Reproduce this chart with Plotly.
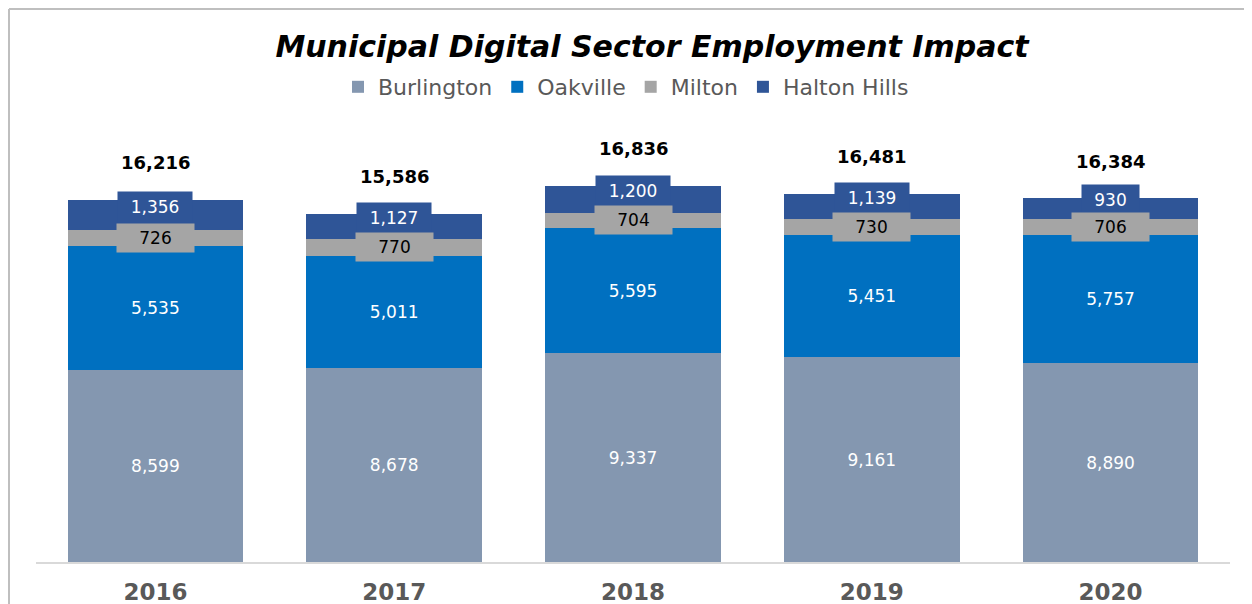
import plotly.graph_objects as go

years = ["2016", "2017", "2018", "2019", "2020"]
burlington = [8599, 8678, 9337, 9161, 8890]
oakville = [5535, 5011, 5595, 5451, 5757]
milton = [726, 770, 704, 730, 706]
halton_hills = [1356, 1127, 1200, 1139, 930]
totals = [16216, 15586, 16836, 16481, 16384]

series_names = ["Burlington", "Oakville", "Milton", "Halton Hills"]
colors = ["#8497B0", "#0070C0", "#A5A5A5", "#2F5597"]

# page has an 8px body margin, so the figure is drawn 8px in from the corner
OFF = 8
W, H = 1252 - OFF, 604 - OFF
ML, MR, MT, MB = 36 - OFF, 22, 115 - OFF, 42
PW = W - ML - MR
PH = H - MT - MB
FONT = "DejaVu Sans"


def px_x(px):
    """reference-page pixel x -> paper x"""
    return (px - OFF - ML) / PW


def px_y(py):
    """reference-page pixel y -> paper y"""
    return (H - MB - (py - OFF)) / PH


fig = go.Figure()
all_vals = [burlington, oakville, milton, halton_hills]
for i, (name, vals, col) in enumerate(zip(series_names, all_vals, colors)):
    inside = i < 2
    fig.add_trace(go.Bar(
        name=name, x=years, y=vals, marker=dict(color=col, line=dict(width=0)),
        text=[f"{v:,}" for v in vals] if inside else None,
        textposition="inside" if inside else "none",
        insidetextanchor="middle", textangle=0, constraintext="none",
        textfont=dict(family=FONT, size=17, color="#FFFFFF"),
        hoverinfo="skip",
    ))

annotations = []
# Halton Hills labels (drawn first, under Milton labels); x = category index
for j in range(len(years)):
    base = burlington[j] + oakville[j] + milton[j]
    v = halton_hills[j]
    txt = f"{v:,}"
    annotations.append(dict(
        x=j, y=base + v / 2, xref="x", yref="y", text=txt, showarrow=False,
        yshift=8, bgcolor=colors[3], borderpad=3,
        width=68 if len(txt) > 3 else 51, height=24,
        font=dict(family=FONT, size=17, color="#FFFFFF"),
    ))
for j in range(len(years)):
    base = burlington[j] + oakville[j]
    v = milton[j]
    annotations.append(dict(
        x=j, y=base + v / 2, xref="x", yref="y", text=f"{v:,}", showarrow=False,
        bgcolor=colors[2], borderpad=3, width=71, height=22,
        font=dict(family=FONT, size=17, color="#000000"),
    ))
for j in range(len(years)):
    top = burlington[j] + oakville[j] + milton[j] + halton_hills[j]
    annotations.append(dict(
        x=j, y=top, xref="x", yref="y", text=f"<b>{totals[j]:,}</b>", showarrow=False,
        yshift=37, font=dict(family=FONT, size=18, color="#000000"),
    ))

shapes = [
    dict(type="line", xref="paper", yref="paper", x0=px_x(OFF + 1), x1=px_x(1260),
         y0=px_y(OFF + 1), y1=px_y(OFF + 1), line=dict(color="#BFBFBF", width=2)),
    dict(type="line", xref="paper", yref="paper", x0=px_x(OFF + 1), x1=px_x(OFF + 1),
         y0=px_y(OFF + 1), y1=px_y(620), line=dict(color="#BFBFBF", width=2)),
]

fig.update_layout(
    width=W, height=H,
    margin=dict(l=ML, r=MR, t=MT, b=MB, autoexpand=False),
    paper_bgcolor="#FFFFFF", plot_bgcolor="#FFFFFF",
    barmode="stack", bargap=0.264,
    title=dict(text="Municipal Digital Sector Employment Impact",
               x=(652 - OFF) / W, xanchor="center", y=1 - (46 - OFF) / H,
               yanchor="middle", xref="container", yref="container",
               font=dict(family=FONT, size=30, color="#000000",
                         weight="bold", style="italic")),
    legend=dict(orientation="h", x=px_x(626), xanchor="center",
                y=px_y(87), yanchor="middle", traceorder="normal",
                font=dict(family=FONT, size=22, color="#595959"),
                bgcolor="rgba(0,0,0,0)"),
    xaxis=dict(type="category", range=[-0.5, len(years) - 0.5], autorange=False,
               showline=True, linecolor="#D9D9D9", linewidth=2,
               ticks="", showgrid=False, zeroline=False, ticklabelstandoff=8,
               tickfont=dict(family=FONT, size=23, color="#595959", weight="bold")),
    yaxis=dict(range=[0, 20000], visible=False, showgrid=False, zeroline=False),
    annotations=annotations, shapes=shapes, showlegend=True,
)

fig.write_html("out.html")
